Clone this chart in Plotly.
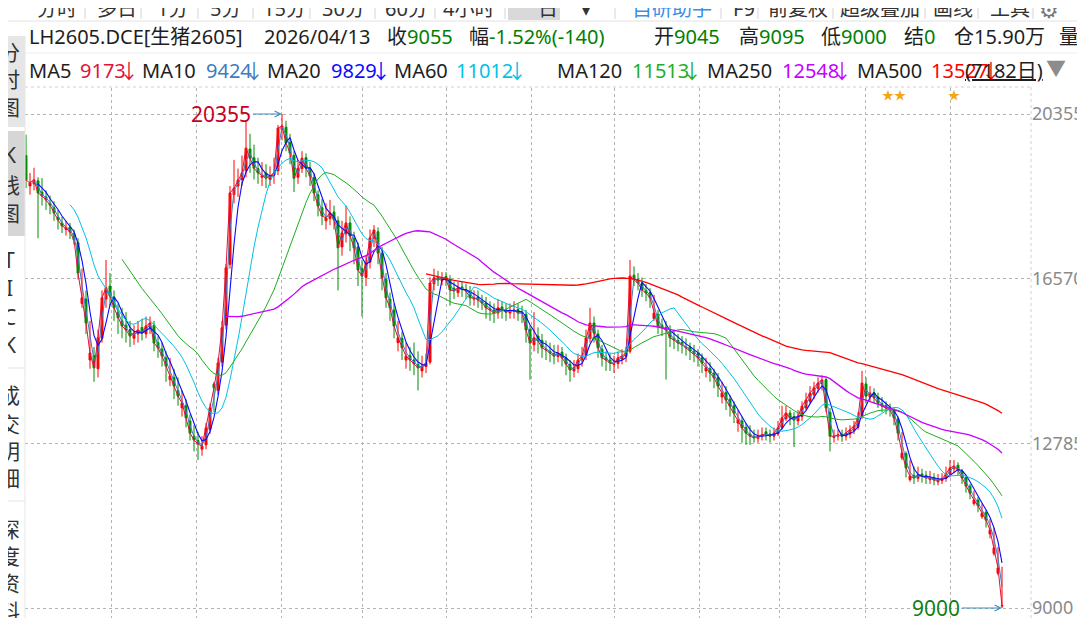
import plotly.graph_objects as go
import pandas as pd

# ---------------- data (each plotted bar ≈ 5 trading days) ----------------
opens = [
    19400, 18700, 18750, 18820, 18560, 18450, 18300, 18200, 17980, 17850,
    17700, 17760, 17600, 17400, 16000, 16100, 14700, 14800, 14500, 15200,
    16100, 16400, 16150, 15800, 15600, 15500, 15400, 15200, 15300, 15450,
    15300, 15450, 15500, 15100, 14950, 14750, 14250, 14300, 14000, 13600,
    13650, 13300, 12950, 12850, 12650, 12750, 13100, 14150, 14000, 14650,
    15500, 16900, 18500, 18700, 18850, 19050, 19550, 19350, 19100, 18900,
    19000, 18850, 18950, 19050, 20000, 20050, 19700, 19400, 18900, 19100,
    19350, 19100, 18900, 18500, 18200, 17900, 17950, 18100, 17900, 17300,
    17600, 17850, 17500, 17300, 16800, 16600, 16950, 17500, 17650, 17150,
    16550, 16100, 15850, 15100, 15200, 14700, 14800, 14700, 14600, 14450,
    14550, 14650, 16450, 16600, 16520, 16620, 16550, 16350, 16250, 16380,
    16300, 16280, 16100, 16150, 16050, 16000, 15880, 15850, 15780, 15920,
    15850, 15780, 15820, 15860, 15800, 15750, 15400, 15050, 15250, 15150,
    14950, 14900, 14850, 14780, 14880, 14750, 14600, 14450, 14500, 14700,
    14800, 15200, 15550, 15300, 14950, 14750, 14700, 14600, 14620, 14720,
    14780, 14900, 16650, 16550, 16450, 16300, 16250, 15650, 15750, 15500,
    15450, 15350, 15200, 15150, 15100, 15000, 15000, 14900, 14850, 14750,
    14450, 14500, 14400, 14300, 13850, 13950, 13800, 13650, 13250, 13300,
    13150, 13000, 12950, 12900, 12950, 13050, 13000, 12950, 13000, 13150,
    13350, 13480, 13400, 13300, 13400, 13600, 13750, 13900, 14050, 14150,
    14250, 13500, 12920, 12950, 13000, 12950, 13000, 13080, 13150, 13400,
    14150, 13850, 13950, 13850, 13700, 13650, 13600, 13550, 13350, 12450,
    12550, 11950, 12050, 11980, 12080, 12050, 11950, 12000, 11900, 11930,
    11980, 12080, 12200, 12280, 12150, 12000, 11800, 11400, 11480, 11100,
    11200, 10700, 10250, 9800, 9045,
]
highs = [
    19880, 19000, 19120, 18900, 18880, 18600, 18480, 18350, 18150, 17990,
    17900, 17850, 17700, 17500, 16800, 16300, 15600, 15000, 15400, 16300,
    17000, 16700, 16300, 16000, 15900, 15800, 15600, 15500, 15600, 15650,
    15700, 15700, 15600, 15250, 15100, 14900, 14750, 14500, 14300, 14000,
    13800, 13450, 13200, 13050, 12950, 13250, 13700, 14200, 14750, 15600,
    16900, 18700, 19300, 19100, 19400, 20180, 19900, 19650, 19350, 19250,
    19200, 19150, 19350, 20100, 20355, 20200, 19900, 19500, 19300, 19500,
    19450, 19250, 19000, 18600, 18400, 18300, 18380, 18250, 18000, 17900,
    18250, 18000, 17650, 17400, 17000, 17100, 17700, 17800, 17750, 17300,
    16700, 16250, 16000, 15600, 15350, 15100, 15000, 15100, 14900, 14800,
    14850, 16600, 16800, 16750, 16720, 16720, 16650, 16500, 16500, 16500,
    16450, 16400, 16300, 16300, 16200, 16150, 16050, 16000, 16100, 16050,
    16000, 16000, 16050, 16000, 15950, 15850, 15500, 15800, 15450, 15300,
    15150, 15100, 15050, 15050, 15000, 14850, 14700, 14700, 14850, 15000,
    15400, 15900, 15700, 15400, 15050, 14900, 14850, 14800, 14900, 14950,
    15000, 17000, 16850, 16700, 16600, 16450, 16350, 16200, 15850, 15650,
    15600, 15500, 15400, 15300, 15250, 15200, 15100, 15050, 14950, 14850,
    14750, 14650, 14500, 14400, 14200, 14100, 13900, 13750, 13550, 13400,
    13250, 13200, 13100, 13100, 13150, 13150, 13100, 13150, 13300, 13650,
    13650, 13550, 13500, 13550, 13750, 13950, 14100, 14200, 14300, 14350,
    14300, 13600, 13100, 13100, 13100, 13150, 13200, 13300, 13500, 14450,
    14300, 14100, 14050, 13950, 13850, 13750, 13700, 13600, 13400, 13050,
    12600, 12400, 12250, 12250, 12200, 12150, 12150, 12100, 12080, 12100,
    12250, 12400, 12400, 12350, 12200, 12050, 11850, 11700, 11550, 11400,
    11250, 11050, 10850, 10400, 9950,
]
lows = [
    18650, 18500, 18600, 17500, 18250, 18150, 18050, 17900, 17700, 17620,
    17560, 17480, 17350, 16550, 15900, 15300, 14500, 14200, 14300, 15100,
    15900, 15950, 15600, 15300, 15200, 15100, 15000, 15050, 15100, 15150,
    15200, 15300, 14900, 14750, 14550, 14200, 14100, 13800, 13650, 13400,
    13150, 12850, 12600, 12400, 12500, 12650, 13000, 13500, 13900, 14550,
    15400, 16800, 18300, 18450, 18700, 18900, 19000, 18850, 18750, 18700,
    18650, 18700, 18750, 18950, 19750, 19500, 19200, 18560, 18750, 19000,
    18900, 18700, 18350, 18000, 17800, 17700, 17800, 17700, 16300, 17100,
    17400, 17200, 16900, 16400, 15700, 16400, 16800, 17300, 16900, 16300,
    15900, 15600, 15200, 14900, 14700, 14500, 14450, 14350, 14000, 14300,
    14400, 14600, 16300, 16400, 16420, 16400, 15950, 16100, 16150, 16150,
    16100, 15950, 15950, 15900, 15850, 15650, 15600, 15550, 15650, 15650,
    15600, 15650, 15650, 15600, 15550, 15100, 14250, 14900, 14850, 14750,
    14700, 14650, 14600, 14650, 14550, 14350, 14200, 14300, 14400, 14550,
    14700, 15100, 15100, 14750, 14550, 14450, 14450, 14400, 14500, 14600,
    14650, 14850, 16400, 16300, 16150, 16050, 15900, 15600, 15300, 15250,
    14250, 15000, 14950, 14900, 14850, 14800, 14700, 14650, 14550, 14400,
    14300, 14200, 14050, 13850, 13700, 13550, 13400, 13250, 13050, 12800,
    12750, 12750, 12800, 12800, 12850, 12850, 12800, 12850, 12950, 13100,
    13300, 13200, 12700, 13200, 13300, 13550, 13700, 13800, 13950, 14000,
    13500, 12600, 12800, 12850, 12820, 12850, 12900, 13000, 13100, 13350,
    13700, 13750, 13700, 13600, 13500, 13450, 13400, 13200, 12850, 12400,
    12000, 11900, 11850, 11900, 11880, 11850, 11850, 11820, 11820, 11850,
    11900, 12000, 12100, 12050, 11850, 11650, 11500, 11350, 11200, 11050,
    10850, 10600, 10200, 9750, 9000,
]
closes = [
    18840, 18770, 18840, 18540, 18470, 18380, 18260, 18080, 17920, 17780,
    17735, 17640, 17460, 16700, 16130, 15550, 14860, 14520, 15210, 16130,
    16360, 16170, 15900, 15670, 15480, 15390, 15250, 15320, 15390, 15320,
    15480, 15550, 15090, 14980, 14790, 14560, 14330, 14100, 13870, 13710,
    13370, 13020, 12860, 12770, 12720, 13140, 13600, 14060, 14630, 15440,
    16820, 18540, 18650, 18840, 19000, 19570, 19340, 19110, 19000, 18930,
    18880, 18930, 19000, 20030, 20080, 19690, 19460, 18880, 19110, 19340,
    19110, 18930, 18540, 18240, 18010, 17970, 18080, 17920, 17280, 17620,
    17850, 17550, 17280, 16770, 16630, 16930, 17510, 17690, 17160, 16590,
    16130, 15900, 15480, 15210, 14980, 14790, 14700, 14610, 14520, 14560,
    14630, 16470, 16590, 16540, 16590, 16540, 16310, 16290, 16360, 16330,
    16290, 16130, 16130, 16080, 16010, 15900, 15850, 15780, 15900, 15850,
    15800, 15830, 15850, 15780, 15780, 15390, 15090, 15210, 15140, 14980,
    14930, 14860, 14790, 14860, 14750, 14610, 14470, 14520, 14700, 14790,
    15210, 15550, 15320, 14980, 14750, 14700, 14630, 14610, 14750, 14790,
    14860, 16630, 16540, 16470, 16310, 16240, 16130, 15780, 15480, 15440,
    15390, 15210, 15160, 15090, 15050, 14980, 14910, 14840, 14750, 14630,
    14520, 14400, 14290, 14100, 13940, 13780, 13640, 13480, 13320, 13140,
    13020, 12950, 12910, 12950, 12980, 13000, 12950, 13020, 13140, 13370,
    13480, 13370, 13320, 13410, 13640, 13780, 13940, 14060, 14170, 14240,
    13600, 12950, 12950, 12980, 12950, 13020, 13090, 13180, 13370, 14170,
    13870, 13940, 13830, 13710, 13640, 13600, 13550, 13370, 13020, 12560,
    12220, 12030, 11990, 12060, 12030, 11990, 11990, 11940, 11940, 11970,
    12080, 12220, 12260, 12170, 11990, 11800, 11640, 11480, 11350, 11180,
    11020, 10790, 10380, 9920, 9055,
]

ma_names = ["MA5", "MA10", "MA20", "MA60", "MA120", "MA250", "MA500"]
ma_windows = [1, 2, 4, 12, 25, 51, 101]          # in plotted bars (≈5 days each)
ma_last_text = ["9173", "9424", "9829", "11012", "11513", "12548", "13527"]
price_ticks = [9000, 12785, 16570, 20355]

title_code = "LH2605.DCE[生猪2605]"
info_date = "2026/04/13"
info_items = [("收", "9055"), ("幅", "-1.52%(-140)"), ("开", "9045"), ("高", "9095"),
              ("低", "9000"), ("结", "0")]
info_oi = "仓15.90万"
toolbar_tabs = ["分时", "多日", "1分", "5分", "15分", "30分", "60分", "4小时", "日", "▾",
                "自研助手", "F9", "前复权", "超级叠加", "画线", "工具"]
side_labels = ["分", "时", "图", "K", "线", "图", "T", "I", "C", "K",
               "成", "交", "明", "细", "深", "度", "资", "料"]

# ---------------- styles / layout geometry ----------------
W, H = 1085, 618
PL, PR, PT, PB = 17, 1023, 80, 610
FONT = "Noto Sans, Noto Sans CJK SC, sans-serif"
UP, DOWN = "#FF0000", "#008C00"
MA_COLORS = ["#E3123A", "#3E7CC0", "#0A0AFF", "#00C2E6", "#1FAE1F", "#C800FF", "#FF0000"]
MA_WIDTHS = [1, 1, 1.1, 1, 1, 1.3, 1.3]
GRID = "#B4B4B4"


def fx(px):
    return (px - PL) / (PR - PL)


def fy(py):
    return (PB - py) / (PB - PT)


idx = list(range(len(closes)))
cs = pd.Series(closes, dtype=float)

fig = go.Figure()
fig.add_trace(go.Candlestick(
    x=idx, open=opens, high=highs, low=lows, close=closes,
    increasing=dict(line=dict(color=UP, width=1), fillcolor=UP),
    decreasing=dict(line=dict(color=DOWN, width=1), fillcolor=DOWN),
    whiskerwidth=0, hoverinfo="skip", name="LH2605"))

for name, win, col, lw in zip(ma_names, ma_windows, MA_COLORS, MA_WIDTHS):
    ma = cs.rolling(win, min_periods=win).mean()
    fig.add_trace(go.Scatter(x=idx, y=ma, mode="lines", name=name,
                             line=dict(color=col, width=lw), hoverinfo="skip"))

ann = []


def txt(px, py, text, color="#1E1E1E", size=20, xanchor="left", family=FONT, **kw):
    ann.append(dict(x=fx(px), y=fy(py), xref="paper", yref="paper", text=text,
                    showarrow=False, xanchor=xanchor, yanchor="middle",
                    font=dict(family=family, size=size, color=color), **kw))


# row 1 : quote line
txt(19, 29, title_code)
txt(254, 29, info_date)
info_x = [377, 459, 644, 729, 811, 894]
for (lab, val), x0 in zip(info_items, info_x):
    txt(x0, 29, lab)
    txt(x0 + 20, 29, val, color="#008000")
txt(944, 29, info_oi)
txt(1049, 29, "量")

# row 2 : moving average legend
ma_lab_x = [19, 132, 257, 384, 547, 697, 847]
ma_val_x = [70, 196, 321, 446, 622, 772, 921]
ma_arrow_x = [121, 246, 373, 509, 684, 834, 983]
for name, v, col, xl, xv, xa in zip(ma_names, ma_last_text, MA_COLORS,
                                    ma_lab_x, ma_val_x, ma_arrow_x):
    txt(xl, 62, name)
    txt(xv, 62, v, color=col)
    txt(xa, 63, "↓", color=col, size=20, xanchor="center", family="Noto Sans CJK SC")
txt(955, 62, "<u>(7182日)</u>", color="#1E1E1E")
txt(1036, 60, "▼", color="#8C8C8C", size=20)

# top toolbar (cut by the window edge)
tab_x = [27, 87, 147, 200, 253, 312, 375, 433, 528, 571, 622, 723, 758, 830, 923, 980]
for t, x0 in zip(toolbar_tabs, tab_x):
    col = "#3A8EE6" if t == "自研助手" else "#333333"
    txt(x0, 1, t, color=col, size=20)
txt(1029, 1, "⚙", color="#777777", size=22)

# left side bar labels (cut by the window edge)
side_y = [44, 71, 99, 147, 177, 205, 252, 280, 309, 337, 387, 416, 443, 470, 521, 548, 575, 603]
for t, yy in zip(side_labels, side_y):
    txt(1, yy, t, color="#333333", size=21, xanchor="center")

# peak / low markers
pk = highs.index(max(highs))
ann.append(dict(x=pk, y=max(highs), xref="x", yref="y", text=str(max(highs)),
                showarrow=True, ax=-29, ay=0, xanchor="right", yanchor="middle",
                arrowhead=5, arrowsize=1.2, arrowwidth=1, arrowcolor="#3D8FBF",
                font=dict(family=FONT, size=21, color="#C8001E")))
lo = lows.index(min(lows))
ann.append(dict(x=lo, y=min(lows), xref="x", yref="y", text=str(min(lows)),
                showarrow=True, ax=-40, ay=0, xanchor="right", yanchor="middle",
                arrowhead=5, arrowsize=1.2, arrowwidth=1, arrowcolor="#3D8FBF",
                font=dict(family=FONT, size=21, color="#128012")))

# event stars
txt(886, 87, "★★", color="#F4A60C", size=12, xanchor="center")
txt(946, 87, "★", color="#F4A60C", size=12, xanchor="center")

shapes = []


def rect(x0, y0, x1, y1, fill, line=None):
    shapes.append(dict(type="rect", xref="paper", yref="paper", x0=fx(x0), x1=fx(x1),
                       y0=fy(y1), y1=fy(y0), fillcolor=fill, layer="below",
                       line=dict(width=0) if line is None else line))


def hline(x0, x1, y, color, dash="solid"):
    shapes.append(dict(type="line", xref="paper", yref="paper", x0=fx(x0), x1=fx(x1),
                       y0=fy(y), y1=fy(y), line=dict(color=color, width=1, dash=dash)))


def vline(x, y0, y1, color, dash="solid"):
    shapes.append(dict(type="line", xref="paper", yref="paper", x0=fx(x), x1=fx(x),
                       y0=fy(y0), y1=fy(y1), line=dict(color=color, width=1, dash=dash)))


# toolbar
rect(500, -5, 552, 12, "#D9D9D9")
for sx in [77, 133, 190, 245, 302, 367, 427, 497, 607, 713, 750, 825, 917, 970, 1025]:
    vline(sx, -2, 11, "#D5D5D5")
hline(0, 1085, 13, "#E2E2E2")
hline(17, 1085, 45, "#EEEEEE")
hline(17, 1023, 79, "#D0D0D0", dash="dot")
# side bar
rect(-1, 28, 17, 119, "#E6E6E6")
rect(-1, 123, 17, 228, "#D6D6D6")
hline(0, 17, 360, "#E3E3E3")
hline(0, 17, 493, "#E3E3E3")
vline(17, 28, 618, "#E6E6E6")
# right axis border
vline(1023, 79, 618, "#D0D0D0", dash="dot")
# orange flag bottom right
shapes.append(dict(type="path", xref="paper", yref="paper",
                   path="M {a},{b} L {c},{b} L {c},{d} L {e},{d} Z".format(
                       a=fx(1077), b=fy(578), c=fx(1086), d=fy(600), e=fx(1083)),
                   fillcolor="#F4511E", line=dict(width=0)))

grid_x = [21.25, 42.5, 63.75, 84.0, 105.0, 126.25, 147.0, 168.25, 188.25, 209.75, 231.0]
bar_px = 4.0
x0r = (PL - 18) / bar_px
x1r = x0r + (PR - PL) / bar_px
ppx = (price_ticks[-1] - price_ticks[0]) / (600 - 106)
y_top = price_ticks[-1] + (106 - PT) * ppx
y_bot = price_ticks[0] - (PB - 600) * ppx

fig.update_layout(
    width=W, height=H, margin=dict(l=PL, r=W - PR, t=PT, b=H - PB),
    paper_bgcolor="white", plot_bgcolor="white", showlegend=False,
    font=dict(family=FONT),
    xaxis=dict(range=[x0r, x1r], rangeslider=dict(visible=False), tickvals=grid_x,
               showticklabels=False, showgrid=True, gridcolor=GRID, griddash="dot",
               gridwidth=1, zeroline=False, showline=False, ticks="", fixedrange=True),
    yaxis=dict(range=[y_bot, y_top], side="right", tickvals=price_ticks,
               ticktext=[str(v) for v in price_ticks], showgrid=True, gridcolor=GRID,
               griddash="dot", gridwidth=1, zeroline=False, showline=False, ticks="",
               ticklabelstandoff=0, ticklabeloverflow="allow",
               tickfont=dict(family=FONT, size=18, color="#8A8A8A"), fixedrange=True),
    annotations=ann, shapes=shapes,
)

fig.write_html("out.html")
